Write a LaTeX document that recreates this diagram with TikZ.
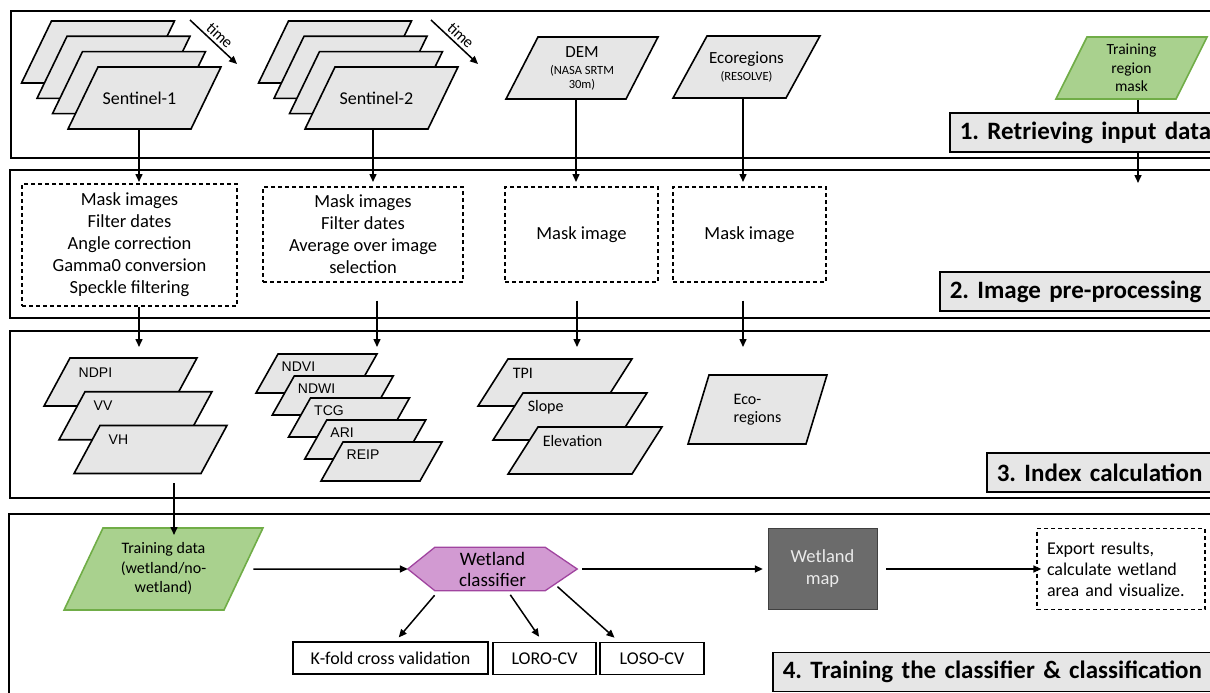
\documentclass[tikz,border=0pt]{standalone}
\usepackage{fontspec}
\setmainfont{Carlito}
\newfontfamily\arialfont{Liberation Sans}
\usetikzlibrary{arrows.meta, shapes.geometric, calc}
\definecolor{lgray}{HTML}{E6E6E6}
\definecolor{cgreen}{HTML}{A9D18E}
\definecolor{cgreend}{HTML}{70AD47}
\definecolor{cpurple}{HTML}{D29AD2}
\definecolor{cpurpled}{HTML}{A0449F}
\definecolor{cdark}{HTML}{6B6B6B}
\newcommand{\fsz}[2]{\fontsize{#1}{#2}\selectfont}
\pgfdeclarelayer{back}
\pgfsetlayers{back,main}
\frenchspacing
\tikzset{
  every picture/.style={line width=1.5pt},
  frame/.style={draw, line width=1.8pt},
  % angle / body width / height
  layer/.style args={#1/#2/#3}{trapezium, trapezium left angle=#1, trapezium right angle={180-#1},
    text width=#2pt, text height=#3pt, text depth=0pt, inner sep=0pt, draw, fill=lgray, line width=1.6pt},
  gdata/.style={layer=#1, fill=cgreen, draw=cgreend},
  dbox/.style={draw, dash pattern=on 4pt off 3pt, line width=1.3pt, align=center, font=\fsz{18.5}{22}},
  arr/.style={-{Triangle[length=8pt,width=7pt]}, line width=1.5pt},
  sect/.style={draw, fill=lgray, line width=1.6pt, anchor=west, font=\bfseries\fsz{25}{30},
    minimum height=39, inner xsep=10, inner ysep=3, text width=#1, align=left},
  idx/.style={anchor=west, font=\arialfont\fsz{14}{16}, inner sep=0pt},
  didx/.style={anchor=west, font=\fsz{16}{18}, inner sep=0pt},
  cvbox/.style={draw, line width=1.6pt, minimum height=32, font=\fsz{18}{22}},
}

\begin{document}
\begin{tikzpicture}[x=1pt, y=-1pt]
  \useasboundingbox (0,0) rectangle (1210,693);
  \begin{pgfonlayer}{back}
    \fill[white] (0,0) rectangle (1210,693);
  \end{pgfonlayer}
  % panels
  \draw[frame] (11,11) rectangle (1225,158);
  \draw[frame] (10,170) rectangle (1225,318);
  \draw[frame] (10,331) rectangle (1225,498);
  \draw[frame] (9,514) rectangle (1225,712);

  % 1. input data
  \foreach \k in {0,1,2} {
    \node[layer=64.2/93/62] (s1l\k) at ({98+15.5*\k},{52+15.3*\k}) {};
    \node[layer=64.2/93/62] (s2l\k) at ({335+15.5*\k},{52+15.3*\k}) {};
  }
  \node[layer=64.2/93/62, label={[name=s1t, xshift=-5, font=\fsz{18}{22}]center:Sentinel-1}] (s1) at (144.5,98) {};
  \node[layer=64.2/93/62, label={[name=s2t, xshift=-5, font=\fsz{18}{22}]center:Sentinel-2}] (s2) at (381.5,98) {};
  \node[layer=62.7/88/62, label={[name=demt, align=center, font=\fsz{12.5}{14}]center:{{\fsz{17}{19}DEM}\\[3pt](NASA SRTM\\30m)}}] (dem) at (582,68) {};
  \node[layer=61.3/79/62, label={[name=ecot, align=center, font=\fsz{12.5}{14}]center:{{\fsz{17}{19}Ecoregions}\\[3pt](RESOLVE)}}] (eco) at (746.5,67) {};
  \node[gdata=63.4/89/62, label={[name=tmt, align=center, font=\fsz{15.5}{18.5}]center:{Training\\region\\mask}}] (tm) at (1131.5,68) {};
  \coordinate (t1a) at (190,20);
  \coordinate (t1b) at (237,64);
  \coordinate (t2a) at (431,20);
  \coordinate (t2b) at (478,64);
  \draw[arr] (t1a) -- (t1b) node[midway, sloped, above, font=\fsz{16}{18}, inner sep=3pt] (time1) {time};
  \draw[arr] (t2a) -- (t2b) node[midway, sloped, above, font=\fsz{16}{18}, inner sep=3pt] (time2) {time};

  % 2. pre-processing
  \node[dbox, minimum width=215, minimum height=122] (pre1) at (129.5,245)
    {Mask images\\Filter dates\\Angle correction\\Gamma0 conversion\\Speckle filtering};
  \node[dbox, minimum width=200, minimum height=95] (pre2) at (363,234.5)
    {Mask images\\Filter dates\\Average over image\\selection};
  \node[dbox, minimum width=153, minimum height=95] (pre3) at (581.5,234.5) {Mask image};
  \node[dbox, minimum width=153, minimum height=95] (pre4) at (749.5,234.5) {Mask image};

  % 3. indices
  \foreach \n [count=\k from 0] in {NDPI,VV,VH} {
    \node[layer=61.6/101/48] (s1i\k) at ({120.5+15*\k},{382+33.75*\k}) {};
    \node[idx] (s1t\k) at ([xshift=9, yshift=-15]s1i\k.top left corner) {\n};
  }
  \foreach \n [count=\k from 0] in {NDVI,NDWI,TCG,ARI,REIP} {
    \node[layer=60.6/77/39] (s2i\k) at ({316.5+16.25*\k},{373.5+22*\k}) {};
    \node[idx] (s2t\k) at ([xshift=4, yshift=-13]s2i\k.top left corner) {\n};
  }
  \foreach \n [count=\k from 0] in {TPI,Slope,Elevation} {
    \node[layer=57.5/94/47] (demi\k) at ({555+15*\k},{382.5+34*\k}) {};
    \node[didx] (demt\k) at ([xshift=5, yshift=-15]demi\k.top left corner) {\n};
  }
  \node[layer=73.1/97/69, label={[name=ecoit, align=left, font=\fsz{16}{18}]center:{Eco-\\regions}}] (ecoi) at (757.5,409.5) {};

  % 4. classification
  \node[gdata=64.6/121/82, label={[name=tdt, align=center, font=\fsz{16}{19.5}]center:{Training data\\(wetland/no-\\wetland)}}] (td) at (163.5,569) {};
  \node[minimum width=169, minimum height=43, font=\fsz{19}{21}, align=center, inner sep=0pt] (cls) at (492.5,569) {Wetland\\classifier};
  \begin{pgfonlayer}{back}
    \draw[draw=cpurpled, fill=cpurple, line width=1.3pt] (cls.west) -- ([xshift=27]cls.north west) -- ([xshift=-32]cls.north east)
      -- (cls.east) -- ([xshift=-32]cls.south east) -- ([xshift=27]cls.south west) -- cycle;
  \end{pgfonlayer}
  \node[draw=black!75, fill=cdark, text=white!92!black, minimum width=109, minimum height=81, font=\fsz{18.5}{22}, align=center] (map) at (822.5,569) {Wetland\\map};
  \node[dbox, minimum height=81, text width=148, inner xsep=10, align=left, font=\fsz{18}{21}] (exp) at (1121,569)
    {Export results,\\calculate wetland\\area and visualize.};
  \node[cvbox, minimum width=195] (kf) at (390.5,658) {K-fold cross validation};
  \node[cvbox, minimum width=103] (loro) at (544.5,658.5) {LORO-CV};
  \node[cvbox, minimum width=104] (loso) at (652,658.5) {LOSO-CV};

  % connectors
  \coordinate (in1) at (139,182);
  \coordinate (in2) at (373,182);
  \coordinate (in3) at (576,182);
  \coordinate (in4) at (743,182);
  \coordinate (in5) at (1138,183);
  \coordinate (ix1) at (139,347);
  \coordinate (ix2) at (377,347);
  \coordinate (ix3) at (577,347);
  \coordinate (ix4) at (743,347);
  \coordinate (ix5) at (174,535);
  \draw[arr] (s1.south -| in1) -- (in1);
  \draw[arr] (s2.south -| in2) -- (in2);
  \draw[arr] (dem.south -| in3) -- (in3);
  \draw[arr] (eco.south -| in4) -- (in4);
  \draw[arr] (tm.south -| in5) -- (in5);
  \draw[arr] (pre1.south -| ix1) -- (ix1);
  \draw[arr, shorten <=18] (pre2.south -| ix2) -- (ix2);
  \draw[arr, shorten <=18] (pre3.south -| ix3) -- (ix3);
  \draw[arr, shorten <=18] (pre4.south -| ix4) -- (ix4);
  \draw[arr, shorten <=9] (s1i2.south -| ix5) -- (ix5);
  \draw[arr, shorten <=9] (td.east) -- (cls.west);
  \draw[arr, shorten <=5, shorten >=5] (cls.east) -- (map.west);
  \draw[arr, shorten <=9, shorten >=-5] (map.east) -- (exp.west);
  \draw[arr, shorten <=6, shorten >=5] ([xshift=-54]cls.south) -- ([xshift=5]kf.north);
  \draw[arr, shorten <=5, shorten >=6] ([xshift=15]cls.south) -- ([xshift=-2]loro.north);
  \draw[arr, shorten >=6] ([xshift=65, yshift=4]cls.south) -- ([xshift=-33]loso.north);

  % section labels
  \node[sect=300] (sec1) at (949,132.5) {1. Retrieving input data};
  \node[sect=300] (sec2) at (939,291.5) {2. Image pre-processing};
  \node[sect=300] (sec3) at (986,472.5) {3. Index calculation};
  \node[sect=460] (sec4) at (772,672) {4. Training the classifier \& classification};
\end{tikzpicture}
\end{document}
